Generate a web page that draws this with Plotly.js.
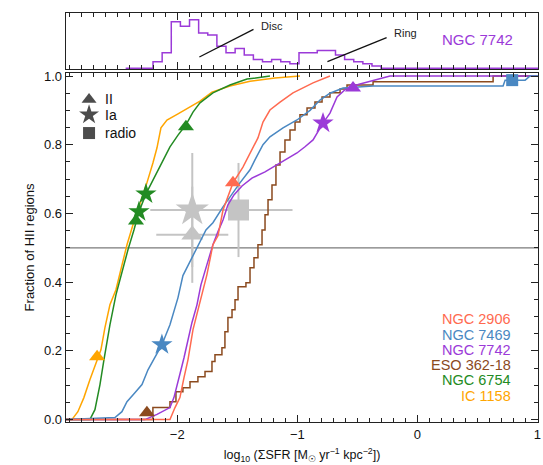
<!DOCTYPE html>
<html><head><meta charset="utf-8">
<script src="https://cdn.plot.ly/plotly-3.0.1.min.js"></script>
<style>html,body{margin:0;padding:0;background:#fff}</style>
</head><body><div id="chart" style="width:543px;height:465px"></div>
<script>
// ---- cumulative distributions (log10 SigmaSFR, fraction) ----
const ic1158X = [-2.927,-2.878,-2.828,-2.778,-2.728,-2.669,-2.636,-2.603,-2.561,-2.511,-2.469,-2.419,-2.369,-2.311,-2.253,-2.203,-2.169,-2.136,-2.086,-1.994,-1.894,-1.811,-1.711,-1.561,-1.394,-1.186,-0.978];
const ic1158Y = [0,0,0.023,0.064,0.116,0.174,0.203,0.267,0.334,0.378,0.442,0.509,0.567,0.625,0.689,0.747,0.791,0.849,0.872,0.890,0.910,0.927,0.953,0.971,0.985,0.994,1.0];

const ngc6754X = [-2.927,-2.728,-2.686,-2.644,-2.611,-2.561,-2.511,-2.461,-2.411,-2.361,-2.319,-2.261,-2.211,-2.144,-2.061,-1.994,-1.928,-1.869,-1.811,-1.703,-1.561,-1.419,-1.228];
const ngc6754Y = [0,0,0.029,0.102,0.174,0.276,0.363,0.430,0.494,0.552,0.605,0.657,0.692,0.735,0.794,0.828,0.858,0.895,0.922,0.951,0.974,0.991,1.0];

const ngc2906X = [-2.927,-2.061,-2.019,-1.978,-1.944,-1.911,-1.869,-1.811,-1.753,-1.703,-1.661,-1.619,-1.536,-1.453,-1.378,-1.328,-1.286,-1.228,-1.144,-1.036,-0.869,-0.728];
const ngc2906Y = [0,0,0.035,0.064,0.122,0.174,0.262,0.343,0.422,0.509,0.535,0.610,0.689,0.735,0.785,0.820,0.866,0.901,0.924,0.951,0.980,1.0];

const ngc7469X = [-2.927,-2.644,-2.519,-2.461,-2.419,-2.353,-2.294,-2.244,-2.186,-2.128,-2.061,-1.994,-1.953,-1.894,-1.844,-1.811,-1.761,-1.703,-1.619,-1.478,-1.394,-1.353,-1.286,-1.228,-1.119,-1.003,-0.894,-0.811,-0.728,-0.619,-0.503,-0.369,0.714,0.731,0.898,0.939,1.005];
const ngc7469Y = [0,0.003,0.006,0.023,0.052,0.078,0.102,0.145,0.183,0.218,0.276,0.355,0.419,0.459,0.494,0.515,0.552,0.573,0.619,0.689,0.727,0.756,0.800,0.823,0.849,0.872,0.900,0.930,0.950,0.965,0.968,0.971,0.971,0.988,0.988,1.0,1.0];

const eso36218X = [-2.927,-2.203,-2.061,-2.011,-1.953,-1.894,-1.828,-1.769,-1.711,-1.686,-1.628,-1.603,-1.578,-1.544,-1.519,-1.494,-1.428,-1.394,-1.361,-1.328,-1.294,-1.269,-1.244,-1.211,-1.178,-1.144,-1.103,-1.061,-1.019,-0.978,-0.919,-0.853,-0.794,-0.728,-0.644,-0.586,-0.369,0.631,1.005];
const eso36218Y = [0,0.035,0.052,0.081,0.093,0.110,0.125,0.140,0.169,0.189,0.209,0.256,0.297,0.320,0.349,0.387,0.398,0.442,0.471,0.509,0.552,0.596,0.640,0.683,0.741,0.779,0.814,0.843,0.866,0.887,0.907,0.924,0.939,0.951,0.962,0.974,0.983,1.0,1.0];

const ngc7742X = [-2.927,-2.269,-2.169,-2.061,-2.028,-2.003,-1.969,-1.944,-1.911,-1.878,-1.836,-1.803,-1.753,-1.703,-1.661,-1.619,-1.578,-1.528,-1.461,-1.378,-1.269,-1.144,-1.003,-0.936,-0.869,-0.786,-0.728,-0.669,-0.586,-0.478,-0.369,-0.228,1.005];
const ngc7742Y = [0,0,0.015,0.035,0.064,0.102,0.145,0.180,0.233,0.282,0.334,0.392,0.451,0.509,0.547,0.581,0.625,0.654,0.680,0.703,0.721,0.747,0.776,0.794,0.814,0.863,0.892,0.939,0.965,0.977,0.988,1.0,1.0];

// ---- supernova positions ----
const snIIGal = ["IC 1158","NGC 6754","NGC 6754","ESO 362-18","NGC 2906","NGC 7742"];
const snIIX = [-2.668,-2.344,-1.928,-2.253,-1.536,-0.536];
const snIIY = [0.183,0.578,0.852,0.020,0.689,0.965];
const snIaGal = ["NGC 6754","NGC 6754","NGC 7469","NGC 7742"];
const snIaX = [-2.261,-2.319,-2.128,-0.786];
const snIaY = [0.657,0.605,0.218,0.863];
const radioGal = ["NGC 7469"];
const radioX = [0.790];
const radioY = [0.988];

// ---- mean values with errors (grey) ----
const meanIaX = [-1.875], meanIaY = [0.610], meanIaXerr = [0.35], meanIaYerr = [0.166];
const meanIIX = [-1.875], meanIIY = [0.538], meanIIXerr = [0.30], meanIIYerr = [0.140];
const meanRadX = [-1.490], meanRadY = [0.610], meanRadXerr = [0.45], meanRadYerr = [0.137];

// ---- NGC 7742 histogram (top panel) ----
const histEdges = [-2.430,-2.354,-2.278,-2.202,-2.126,-2.050,-1.974,-1.898,-1.822,-1.746,-1.670,-1.594,-1.518,-1.442,-1.366,-1.290,-1.214,-1.138,-1.062,-0.986,-0.910,-0.834,-0.758,-0.682,-0.606,-0.530,-0.454,-0.378,-0.302];
const histCounts = [0,0,0,3,7,21,19,22,16,15,10,7,9,6,4,3,4,3,2,7,7,8,8,6,4,3,2,1,0];

const galaxies = ["NGC 2906","NGC 7469","NGC 7742","ESO 362-18","NGC 6754","IC 1158"];
const colors = {"NGC 2906":"#FF6A50","NGC 7469":"#4A88C2","NGC 7742":"#9B3AD8","ESO 362-18":"#8B4A1E","NGC 6754":"#238B23","IC 1158":"#FFA500"};
const curves = {"NGC 2906":[ngc2906X,ngc2906Y,"linear"],"NGC 7469":[ngc7469X,ngc7469Y,"linear"],"NGC 7742":[ngc7742X,ngc7742Y,"linear"],"ESO 362-18":[eso36218X,eso36218Y,"hv"],"NGC 6754":[ngc6754X,ngc6754Y,"linear"],"IC 1158":[ic1158X,ic1158Y,"linear"]};

const grey = "#c4c4c4";
const FONT = "Liberation Sans, Arial, Helvetica, sans-serif";
const traces = [];
function greyTrace(x,y,ex,ey,sym,size){
  return {x:x,y:y,type:"scatter",mode:"markers",xaxis:"x",yaxis:"y",showlegend:false,hoverinfo:"skip",
    marker:{symbol:sym,size:size,color:grey,line:{width:0}},
    error_x:{type:"data",array:ex,visible:true,color:grey,thickness:2,width:0},
    error_y:{type:"data",array:ey,visible:true,color:grey,thickness:2,width:0}};
}
traces.push(greyTrace(meanIIX,meanIIY,meanIIXerr,meanIIYerr,"triangle-up",19));
traces.push(greyTrace(meanIaX,meanIaY,meanIaXerr,meanIaYerr,"star",25));
traces.push(greyTrace(meanRadX,meanRadY,meanRadXerr,meanRadYerr,"square",21));

// draw order: orange, green, brown, purple, blue, red
["IC 1158","NGC 6754","ESO 362-18","NGC 7742","NGC 7469","NGC 2906"].forEach(g=>{
  const c = curves[g];
  traces.push({x:c[0],y:c[1],type:"scatter",mode:"lines",xaxis:"x",yaxis:"y",showlegend:false,hoverinfo:"skip",
    line:{color:colors[g],width:1.5,shape:c[2]}});
});
traces.push({x:snIIX,y:snIIY,type:"scatter",mode:"markers",xaxis:"x",yaxis:"y",showlegend:false,hoverinfo:"skip",
  marker:{symbol:"triangle-up",size:14,color:snIIGal.map(g=>colors[g]),line:{width:0}}});
traces.push({x:snIaX,y:snIaY,type:"scatter",mode:"markers",xaxis:"x",yaxis:"y",showlegend:false,hoverinfo:"skip",
  marker:{symbol:"star",size:16,color:snIaGal.map(g=>colors[g]),line:{width:0}}});
traces.push({x:radioX,y:radioY,type:"scatter",mode:"markers",xaxis:"x",yaxis:"y",showlegend:false,hoverinfo:"skip",
  marker:{symbol:"square",size:12,color:radioGal.map(g=>colors[g]),line:{width:0}}});

// key symbols (top-left)
const keySyms = ["triangle-up","star","square"];
const keyLabels = ["II","Ia","radio"];
const keyY = [0.932,0.887,0.834];
traces.push({x:[-2.735,-2.735,-2.735],y:keyY,type:"scatter",mode:"markers",xaxis:"x",yaxis:"y",showlegend:false,hoverinfo:"skip",
  marker:{symbol:keySyms,size:[13,15,12],color:"#000",line:{width:0}}});

// top histogram
traces.push({x:histEdges.concat([1.005]),y:histCounts.concat([0]),type:"scatter",mode:"lines",xaxis:"x2",yaxis:"y2",
  showlegend:false,hoverinfo:"skip",line:{color:colors["NGC 7742"],width:1.5,shape:"hv"}});

const annotations = [];
keyLabels.forEach((t,i)=>annotations.push({x:-2.615,y:keyY[i],xref:"x",yref:"y",text:t,showarrow:false,xanchor:"left",yanchor:"middle",font:{family:FONT,size:14,color:"#111"}}));
galaxies.forEach((g,i)=>annotations.push({x:0.8,y:0.292-i*0.0445,xref:"x",yref:"y",text:g,showarrow:false,xanchor:"right",yanchor:"middle",font:{family:FONT,size:14.5,color:colors[g]}}));
annotations.push({x:-1.215,y:19.2,xref:"x2",yref:"y2",text:"Disc",showarrow:false,xanchor:"center",yanchor:"middle",font:{family:FONT,size:11,color:"#222"}});
annotations.push({x:-0.10,y:16.0,xref:"x2",yref:"y2",text:"Ring",showarrow:false,xanchor:"center",yanchor:"middle",font:{family:FONT,size:11,color:"#222"}});
annotations.push({x:0.50,y:12.8,xref:"x2",yref:"y2",text:"NGC 7742",showarrow:false,xanchor:"center",yanchor:"middle",font:{family:FONT,size:15,color:colors["NGC 7742"]}});

const shapes = [
  {type:"line",xref:"x",yref:"y",x0:-2.927,x1:1.005,y0:0.5,y1:0.5,line:{color:"#7a7a7a",width:1.3},layer:"below"},
  {type:"line",xref:"x2",yref:"y2",x0:-1.816,y0:5.1,x1:-1.365,y1:17.6,line:{color:"#111",width:1.3}},
  {type:"line",xref:"x2",yref:"y2",x0:-0.749,y0:3.0,x1:-0.256,y1:13.9,line:{color:"#111",width:1.3}}
];

const axBase = {showline:true,linecolor:"#222",linewidth:1.3,mirror:"allticks",ticks:"inside",tickcolor:"#222",ticklen:7,tickwidth:1,showgrid:false,zeroline:false};

const layout = {
  width:543,height:465,paper_bgcolor:"#fff",plot_bgcolor:"#fff",
  margin:{l:66,r:5,t:13,b:42.5},
  font:{family:FONT,size:13,color:"#111"},
  xaxis:Object.assign({},axBase,{range:[-2.927,1.005],domain:[0,1],anchor:"y",tickvals:[-2,-1,0,1],ticktext:["\u22122","\u22121","0","1"],
    tickfont:{family:FONT,size:13},minor:{dtick:0.1,tick0:0,ticks:"inside",ticklen:4,tickcolor:"#222",showgrid:false},
    title:{text:"log<sub>10</sub> (ΣSFR [M<sub>☉</sub> yr<sup>−1</sup> kpc<sup>−2</sup>])",font:{family:FONT,size:12.5},standoff:9}}),
  yaxis:Object.assign({},axBase,{range:[-0.007,1.009],domain:[0,0.8535],anchor:"x",dtick:0.2,tick0:0,tickformat:".1f",
    tickfont:{family:FONT,size:13},minor:{dtick:0.05,tick0:0,ticks:"inside",ticklen:4,tickcolor:"#222",showgrid:false},
    title:{text:"Fraction of HII regions",font:{family:FONT,size:13},standoff:6}}),
  xaxis2:Object.assign({},axBase,{range:[-2.927,1.005],domain:[0,1],anchor:"y2",tickvals:[-2,-1,0,1],showticklabels:false,
    minor:{dtick:0.1,tick0:0,ticks:"inside",ticklen:4,tickcolor:"#222",showgrid:false}}),
  yaxis2:Object.assign({},axBase,{range:[-0.3,25],domain:[0.8632,1],anchor:"x2",ticks:"",showticklabels:false,mirror:true}),
  annotations:annotations,shapes:shapes
};

Plotly.newPlot("chart",traces,layout,{displayModeBar:false,staticPlot:true});
</script></body></html>
